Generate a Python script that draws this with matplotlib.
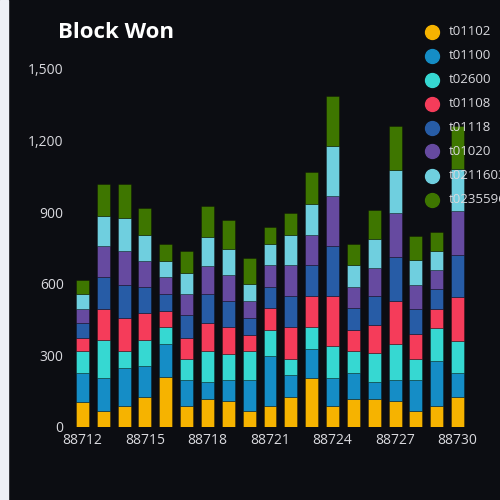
import matplotlib as mpl
import matplotlib.pyplot as plt
import numpy as np
from matplotlib.lines import Line2D

# blocks on the x axis
blocks = [str(b) for b in range(88712, 88731)]

series_names = ['t01102', 't01100', 't02600', 't01108', 't01118', 't01020', 't0211603', 't0235596']
t01102 = [106, 67, 86, 127, 208, 86, 117, 107, 67, 86, 127, 207, 86, 117, 117, 107, 65, 86, 127]
t01100 = [120, 140, 161, 130, 140, 112, 70, 90, 130, 211, 91, 120, 121, 109, 72, 91, 133, 192, 99]
t02600 = [91, 159, 70, 109, 69, 88, 130, 110, 120, 111, 69, 90, 131, 91, 119, 150, 88, 138, 136]
t01108 = [58, 130, 140, 110, 69, 89, 120, 110, 70, 89, 130, 130, 209, 91, 118, 182, 104, 80, 181]
t01118 = [62, 132, 140, 111, 70, 93, 119, 111, 70, 90, 130, 130, 210, 89, 121, 182, 103, 81, 179]
t01020 = [59, 129, 140, 110, 71, 89, 120, 110, 71, 90, 130, 128, 209, 90, 120, 185, 102, 79, 181]
t0211603 = [61, 128, 140, 109, 70, 90, 121, 109, 70, 90, 129, 131, 211, 90, 119, 181, 103, 80, 178]
t0235596 = [60, 133, 141, 112, 70, 90, 130, 120, 110, 71, 91, 131, 211, 90, 122, 184, 103, 81, 180]

series = [t01102, t01100, t02600, t01108, t01118, t01020, t0211603, t0235596]
colors = ['#f6b300', '#158dc6', '#36d8d2', '#f53c5a', '#275ca6', '#664aa0', '#6fcfdf', '#3e7600']

bg = '#0c0d12'
txt = '#d9d9de'

mpl.rcParams['font.family'] = ['Open Sans', 'DejaVu Sans']

fig = plt.figure(figsize=(5, 5), dpi=100, facecolor=bg)
# light strip on the left edge
fig.patches.append(mpl.patches.Rectangle((0, 0), 8 / 500, 1, transform=fig.transFigure,
                                         color='#eef0f6', zorder=-1))

ax = fig.add_axes([0.144, 0.146, 0.792, 0.716])
ax.set_facecolor(bg)

x = np.arange(len(blocks))
bottom = np.zeros(len(blocks))
for name, vals, c in zip(series_names, series, colors):
    ax.bar(x, vals, width=0.62, bottom=bottom, color=c, edgecolor=mpl.colors.to_rgba('black', 0.35),
           linewidth=0.6, label=name)
    bottom += np.array(vals)

ax.set_xlim(-0.5, len(blocks) - 0.5)
ax.set_ylim(0, 1500)
ax.set_yticks([0, 300, 600, 900, 1200, 1500])
ax.set_yticklabels(['{:,}'.format(v) for v in [0, 300, 600, 900, 1200, 1500]])
ax.set_xticks(x[::3])
ax.set_xticklabels(blocks[::3])
ax.tick_params(colors=txt, labelsize=10, length=0)
ax.tick_params(axis='x', pad=4)
ax.tick_params(axis='y', pad=6)
for s in ax.spines.values():
    s.set_visible(False)

fig.text(0.116, 0.934, 'Block Won', color='white', fontsize=16, fontweight='bold', va='center')

# legend drawn by hand at the top right
for i, (name, c) in enumerate(zip(series_names, colors)):
    yy = 1 - (31.5 + 24 * i) / 500
    fig.add_artist(Line2D([432 / 500], [yy], marker='o', markersize=10, color=c,
                          linestyle='none', transform=fig.transFigure))
    fig.text(449 / 500, yy, name, color=txt, fontsize=9.5, va='center')

fig.savefig('out.png', dpi=100, facecolor=bg)
